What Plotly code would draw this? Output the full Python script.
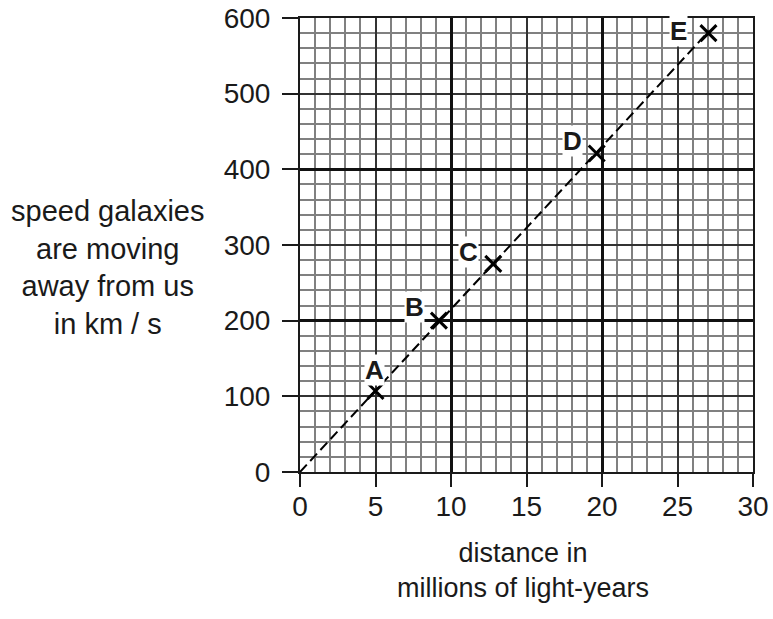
import plotly.graph_objects as go

# ---- data ----
galaxy_labels = ["A", "B", "C", "D", "E"]
distance_mly = [5.0, 9.2, 12.8, 19.65, 27.05]
speed_kms = [107, 200, 275, 421, 580]

fit_x = [0, 27.1]
fit_y = [0, 583]

x_tick_vals = [0, 5, 10, 15, 20, 25, 30]
y_tick_vals = [0, 100, 200, 300, 400, 500, 600]

y_title_lines = ["speed galaxies", "are moving", "away from us", "in km / s"]
x_title_lines = ["distance in", "millions of light-years"]

# label offsets (px) relative to each point
label_dx = [-1, -24, -25, -24, -30]
label_dy = [21, 14, 12, 12, 2]

FONT = "Liberation Sans, Arial, sans-serif"
FS = 28

fig = go.Figure()

# invisible trace for base axes
fig.add_trace(go.Scatter(x=[0, 30], y=[0, 600], mode="markers",
                         marker=dict(opacity=0), hoverinfo="skip",
                         showlegend=False, xaxis="x", yaxis="y"))

# dashed fit line
fig.add_trace(go.Scatter(x=fit_x, y=fit_y, mode="lines",
                         line=dict(color="black", width=2, dash="10px,5px"),
                         showlegend=False, xaxis="x2", yaxis="y2"))

# data points
fig.add_trace(go.Scatter(x=distance_mly, y=speed_kms, mode="markers",
                         marker=dict(symbol="x-thin", size=16, color="black",
                                     line=dict(color="black", width=3)),
                         showlegend=False, xaxis="x2", yaxis="y2",
                         cliponaxis=False))

for lab, xv, yv, dx, dy in zip(galaxy_labels, distance_mly, speed_kms, label_dx, label_dy):
    fig.add_annotation(x=xv, y=yv, xref="x2", yref="y2", text="<b>%s</b>" % lab,
                       showarrow=False, xshift=dx, yshift=dy,
                       font=dict(family=FONT, size=26, color="#1a1a1a"),
                       bgcolor="white", borderpad=0)

fig.add_annotation(x=-0.426, y=0.4515, xref="paper", yref="paper",
                   text="<br>".join(y_title_lines), showarrow=False,
                   xanchor="center", yanchor="middle", align="center",
                   font=dict(family=FONT, size=29, color="#1a1a1a"))
fig.add_annotation(x=0.492, y=-0.216, xref="paper", yref="paper",
                   text="<br>".join(x_title_lines), showarrow=False,
                   xanchor="center", yanchor="middle", align="center",
                   font=dict(family=FONT, size=27, color="#1a1a1a"))

minor_col = "#808080"
mid_col = "#333333"
major_col = "#111111"

fig.update_layout(
    width=773, height=619,
    margin=dict(l=300, r=20, t=18, b=147, autoexpand=False),
    paper_bgcolor="white", plot_bgcolor="white",
    font=dict(family=FONT, size=FS, color="#1a1a1a"),
    xaxis=dict(range=[0, 30], tickvals=x_tick_vals, ticks="outside", ticklen=13,
               tickwidth=2, tickcolor="#1a1a1a", showline=True, linewidth=2,
               linecolor="#1a1a1a", mirror=True, zeroline=False, automargin=False,
               showgrid=True, gridcolor=mid_col, gridwidth=1.5,
               minor=dict(dtick=1, showgrid=True, gridcolor=minor_col, gridwidth=1.5),
               tickfont=dict(size=FS), ticklabelstandoff=-5,
               ticklabeloverflow="allow", fixedrange=True),
    yaxis=dict(range=[0, 600], tickvals=y_tick_vals, ticks="outside", ticklen=16,
               tickwidth=2, tickcolor="#1a1a1a", showline=True, linewidth=2,
               linecolor="#1a1a1a", mirror=True, zeroline=False, automargin=False,
               showgrid=True, gridcolor=mid_col, gridwidth=1.5,
               minor=dict(dtick=20, showgrid=True, gridcolor=minor_col, gridwidth=1.5),
               tickfont=dict(size=FS), ticklabelstandoff=6,
               ticklabeloverflow="allow", fixedrange=True),
    xaxis2=dict(range=[0, 30], overlaying="x", side="top", dtick=10, tick0=0,
                showticklabels=False, ticks="", showline=False, zeroline=False,
                automargin=False,
                showgrid=True, gridcolor=major_col, gridwidth=2.5),
    yaxis2=dict(range=[0, 600], overlaying="y", side="right", dtick=200, tick0=0,
                showticklabels=False, ticks="", showline=False, zeroline=False,
                automargin=False,
                showgrid=True, gridcolor=major_col, gridwidth=2.5),
)

# remove the default 8px page margin so the figure fills the window exactly
fig.write_html("out.html",
               config={"displayModeBar": False},
               post_script="document.body.style.margin='0';"
                           "document.body.style.overflow='hidden';")
